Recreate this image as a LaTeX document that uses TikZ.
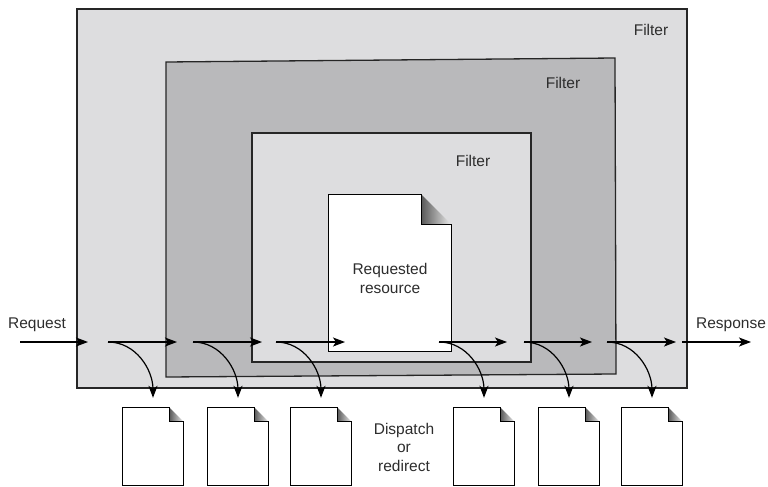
\documentclass[tikz,border=0pt]{standalone}
\usepackage{fontspec}
\setmainfont{Liberation Sans}
\usetikzlibrary{arrows.meta,positioning,calc}
\definecolor{outc}{RGB}{221,221,223}
\definecolor{midc}{RGB}{185,185,187}
\definecolor{txtc}{RGB}{45,45,45}
\tikzset{frame/.style={draw=black!85,line width=1.3pt},
 lbl/.style={font=\fontsize{15.5}{18.5}\selectfont,text=txtc,inner sep=0pt,align=center},
 flow/.style={-{Stealth[length=12pt,width=9pt,inset=3pt]},line width=1.2pt},
 page/.style n args={3}{minimum width=#1,minimum height=#2,inner sep=0pt,
  path picture={
   \path (path picture bounding box.north west) ++(.6pt,-.6pt) coordinate (pw)
         (path picture bounding box.south east) ++(-.6pt,.6pt) coordinate (pe);
   \shade[left color=black!65,right color=black!8] ($(pe|-pw)+(-#3pt,0pt)$) -- ($(pe|-pw)+(-#3pt,-#3pt)$) -- ($(pe|-pw)+(0pt,-#3pt)$) -- cycle;
   \draw[fill=white,line width=1.2pt] (pw) -- ($(pe|-pw)+(-#3pt,0pt)$) -- ($(pe|-pw)+(-#3pt,-#3pt)$)
     -- ($(pe|-pw)+(0pt,-#3pt)$) -- (pe) -- (pw|-pe) -- cycle;}}}

\begin{document}
\begin{tikzpicture}[x=1pt,y=-1pt]
\useasboundingbox (0,0) rectangle (768,487);
% nested filters
\draw[frame,fill=outc] (77,9) rectangle (687,388);
\draw[frame,fill=midc] (166,62) -- (615,58) -- (616,374) -- (166,377) -- cycle;
\draw[frame,fill=outc] (252,133) rectangle (531,362);
\node[lbl] (f1) at (651,30) {Filter};
\node[lbl] (f2) at (563,83) {Filter};
\node[lbl] (f3) at (473,161) {Filter};
% requested resource
\node[page={124pt}{158pt}{30},lbl] (res) at (390,273) {\rule{0pt}{8pt}\\[-4pt]Requested\\resource};
% request / response
\coordinate (in0) at (20,342);\coordinate (in1) at (88,342);
\coordinate (out0) at (682,342);\coordinate (out1) at (751,342);
\node[lbl] (req) at (37,325) {Request};
\node[lbl] (resp) at (731,325) {Response};
\draw[flow] (in0)--(in1);\draw[flow] (out0)--(out1);
% filter chain + dispatch
\foreach \s/\e [count=\i] in {108/177,193/262,276/345,439/507,524/592,607/676}{
 \coordinate (a\i) at (\s,342);\coordinate (b\i) at (\e,342);
 \node[page={62pt}{79pt}{14}] (d\i) at (\s+45,446.5) {};
 \draw[flow] (a\i)--(b\i);
 \draw[flow] (a\i) to[out=0,in=90] ([yshift=9pt]d\i.north);
}
\node[lbl] (disp) at (404,447) {Dispatch\\or\\redirect};
\end{tikzpicture}
\end{document}
